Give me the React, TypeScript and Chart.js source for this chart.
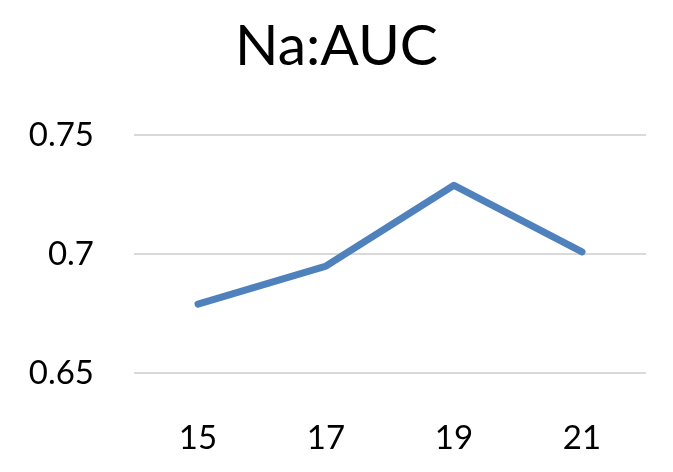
import React, { useEffect, useRef } from "react";
import { Chart, registerables } from "chart.js";

Chart.register(...registerables);

const titleText = "Na:AUC";
const categories = ["15", "17", "19", "21"];
const aucValues = [0.679, 0.695, 0.729, 0.701];
const yMin = 0.65;
const yMax = 0.75;
const yStep = 0.05;

export default function App() {
  const ref = useRef<HTMLCanvasElement | null>(null);

  useEffect(() => {
    document.body.style.margin = "0";
    const canvas = ref.current;
    if (!canvas) return;
    const chart = new Chart(canvas, {
      type: "line",
      data: {
        labels: categories,
        datasets: [
          {
            label: titleText,
            data: aucValues,
            borderColor: "#4F81BD",
            backgroundColor: "#4F81BD",
            borderWidth: 7,
            pointRadius: 0,
            pointHoverRadius: 0,
            borderCapStyle: "round",
            borderJoinStyle: "round",
            tension: 0,
            fill: false,
            yAxisID: "y",
          },
        ],
      },
      options: {
        animation: false,
        responsive: false,
        maintainAspectRatio: false,
        layout: { padding: 0 },
        plugins: {
          legend: { display: false },
          tooltip: { enabled: false },
          title: {
            display: true,
            text: titleText,
            color: "#000000",
            font: { family: "Lato", size: 57, weight: "normal", lineHeight: 1.2 },
            padding: { top: 12, bottom: 55 },
          },
        },
        scales: {
          x: {
            offset: true,
            grid: { display: false, drawTicks: false },
            border: { display: false },
            ticks: {
              color: "#000000",
              font: { family: "Lato", size: 33, lineHeight: 1.2 },
              padding: 46,
              maxRotation: 0,
            },
            afterFit: (scale: any) => {
              scale.height = 99;
            },
          },
          y: {
            min: yMin,
            max: yMax,
            grid: { color: "#D9D9D9", lineWidth: 2, drawTicks: false },
            border: { display: false },
            ticks: {
              stepSize: yStep,
              color: "#000000",
              font: { family: "Lato", size: 33, lineHeight: 1.2 },
              padding: 40,
              callback: (v: any) => String(Math.round(Number(v) * 100) / 100),
            },
            afterFit: (scale: any) => {
              scale.width = 134;
            },
          },
          yRight: {
            position: "right",
            min: yMin,
            max: yMax,
            grid: { display: false, drawTicks: false },
            border: { display: false },
            ticks: { display: false },
            afterFit: (scale: any) => {
              scale.width = 27;
            },
          },
        },
      },
    });
    return () => chart.destroy();
  }, []);

  return <canvas ref={ref} width={673} height={472} style={{ display: "block" }} />;
}
